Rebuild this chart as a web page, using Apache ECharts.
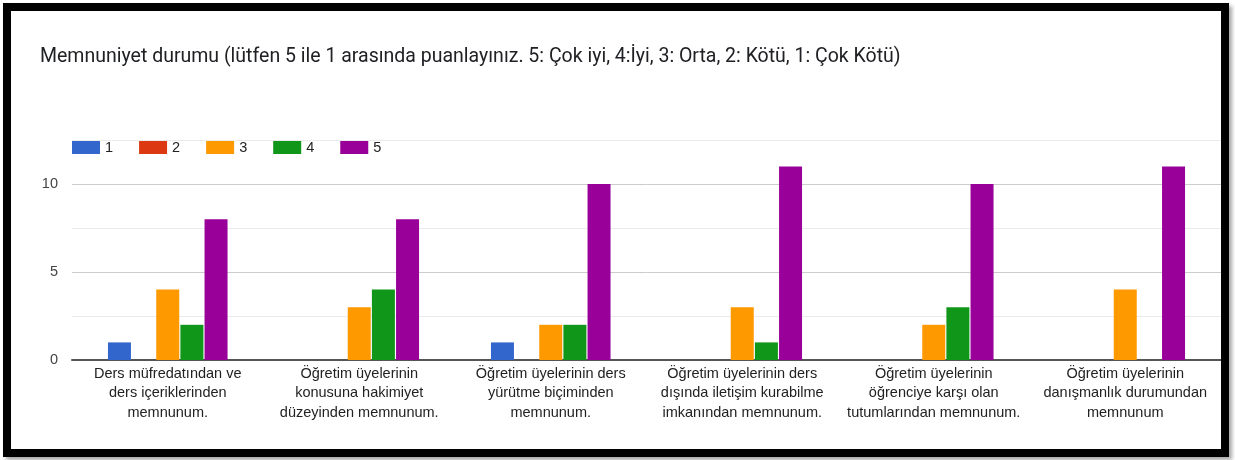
<!DOCTYPE html>
<html>
<head>
<meta charset="utf-8">
<script src="https://cdn.jsdelivr.net/npm/echarts@6/dist/echarts.min.js"></script>
<style>
  html, body { margin: 0; padding: 0; background: #fff; }
  #chart { position: absolute; left: 0; top: 0; width: 1235px; height: 460px; }
  #frame {
    position: absolute; left: 3px; top: 3px; width: 1226px; height: 454px;
    box-sizing: border-box; border: 8px solid #000;
    box-shadow: 3px 3px 4px rgba(0,0,0,0.35);
    pointer-events: none;
  }
</style>
</head>
<body>
<div id="chart"></div>
<div id="frame"></div>
<script>
// soru başlıkları (x ekseni)
const categories = [
  'Ders müfredatından ve\nders içeriklerinden\nmemnunum.',
  'Öğretim üyelerinin\nkonusuna hakimiyet\ndüzeyinden memnunum.',
  'Öğretim üyelerinin ders\nyürütme biçiminden\nmemnunum.',
  'Öğretim üyelerinin ders\ndışında iletişim kurabilme\nimkanından memnunum.',
  'Öğretim üyelerinin\nöğrenciye karşı olan\ntutumlarından memnunum.',
  'Öğretim üyelerinin\ndanışmanlık durumundan\nmemnunum'
];
const seriesNames = ['1', '2', '3', '4', '5'];
const score1 = [1, 0, 1, 0, 0, 0];
const score2 = [0, 0, 0, 0, 0, 0];
const score3 = [4, 3, 2, 3, 2, 4];
const score4 = [2, 4, 2, 1, 3, 0];
const score5 = [8, 8, 10, 11, 10, 11];
const colors = ['#3366cc', '#dc3912', '#ff9900', '#109618', '#990099'];

const allScores = [score1, score2, score3, score4, score5];

const chart = echarts.init(document.getElementById('chart'));

chart.setOption({
  animation: false,
  color: colors,
  title: {
    text: 'Memnuniyet durumu (lütfen 5 ile 1 arasında puanlayınız. 5: Çok iyi, 4:İyi, 3: Orta, 2: Kötü, 1: Çok Kötü)',
    left: 40,
    top: 47,
    padding: 0,
    textStyle: { fontFamily: 'Roboto', fontSize: 19.5, fontWeight: 'normal', color: '#202124' }
  },
  legend: {
    left: 72,
    top: 140,
    padding: 0,
    itemWidth: 28,
    itemHeight: 13,
    itemGap: 26,
    icon: 'rect',
    textStyle: { fontFamily: 'Liberation Sans', fontSize: 14.5, color: '#222' },
    data: seriesNames
  },
  grid: { left: 72, right: 14, top: 140, bottom: 100, containLabel: false },
  xAxis: {
    type: 'category',
    data: categories,
    axisTick: { show: false },
    axisLine: { lineStyle: { color: '#555', width: 2 } },
    axisLabel: {
      interval: 0,
      margin: 4,
      fontFamily: 'Liberation Sans',
      fontSize: 14.5,
      lineHeight: 19.5,
      color: '#222'
    }
  },
  yAxis: {
    type: 'value',
    min: 0,
    max: 12.5,
    interval: 2.5,
    axisLine: { show: false },
    axisTick: { show: false },
    axisLabel: {
      margin: 14,
      fontFamily: 'Liberation Sans',
      fontSize: 14.5,
      color: '#444',
      formatter: v => (v % 5 === 0 ? String(v) : '')
    },
    splitLine: { lineStyle: { color: ['#cccccc', '#ebebeb'], width: 1 } }
  },
  series: allScores.map((vals, i) => ({
    name: seriesNames[i],
    type: 'bar',
    data: vals,
    barWidth: 23,
    barGap: '5%',
    itemStyle: { color: colors[i] }
  }))
});
</script>
</body>
</html>
